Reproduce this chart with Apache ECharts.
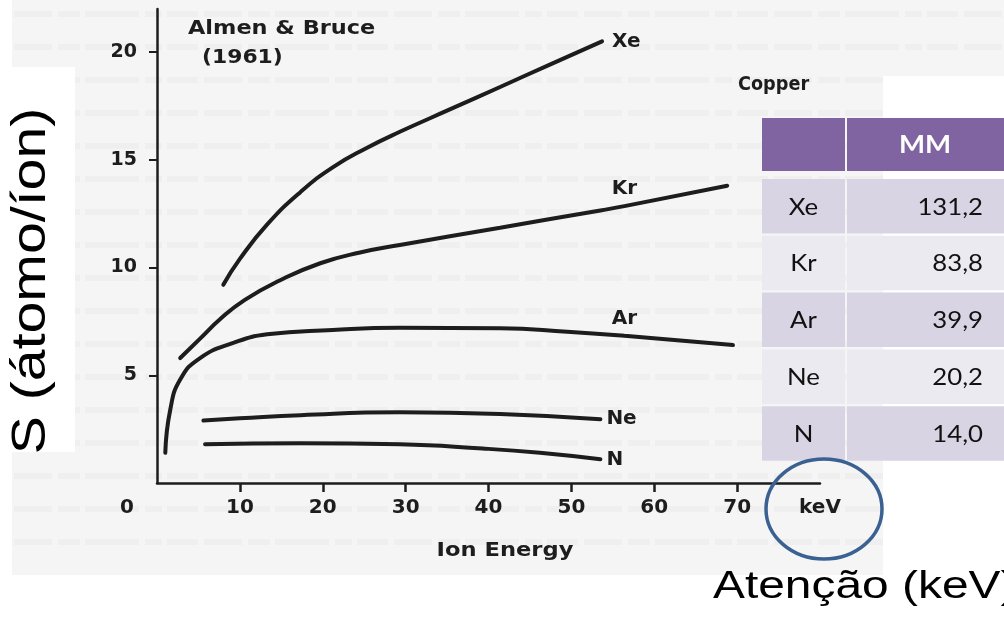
<!DOCTYPE html>
<html>
<head>
<meta charset="utf-8">
<script src="https://cdn.jsdelivr.net/npm/echarts@6/dist/echarts.min.js"></script>
<style>
  html, body { margin: 0; padding: 0; background: #ffffff; }
  #chart { width: 1004px; height: 617px; }
</style>
</head>
<body>
<div id="chart"></div>
<script>
// Sputtering yield S (atoms/ion) of copper versus ion energy (keV), Almen & Bruce (1961)
const xeYield = [[8.0, 9.2], [10.0, 10.4], [13.3, 12.0], [17.3, 13.5], [21.2, 14.65], [25.3, 15.55],
                 [29.3, 16.3], [35.4, 17.35], [41.4, 18.38], [47.4, 19.42], [53.7, 20.5]];
const krYield = [[2.8, 5.8], [5.2, 6.7], [7.6, 7.6], [10.6, 8.5], [14.8, 9.4], [19.7, 10.2],
                 [24.5, 10.7], [29.3, 11.05], [41.4, 11.85], [53.5, 12.65], [56.4, 12.85], [68.8, 13.8]];
const arYield = [[1.0, 1.4], [1.6, 3.4], [2.8, 4.8], [5.2, 5.8], [9.2, 6.5], [13.3, 6.9],
                 [21.2, 7.1], [29.3, 7.2], [41.4, 7.18], [49.5, 7.02], [56.4, 6.83], [69.5, 6.4]];
const neYield = [[5.6, 2.9], [10.0, 3.0], [17.3, 3.15], [29.3, 3.28], [41.4, 3.2], [53.5, 2.96]];
const nYield  = [[5.8, 1.8], [17.3, 1.85], [29.3, 1.8], [39.3, 1.6], [46.2, 1.4], [53.5, 1.1]];

// Gas names and molar masses shown in the side table
const gasNames = ['Xe', 'Kr', 'Ar', 'Ne', 'N'];
const molarMass = ['131,2', '83,8', '39,9', '20,2', '14,0'];

// Axis tick values
const xTicks = [10, 20, 30, 40, 50, 60, 70];
const xLabels = [0, 10, 20, 30, 40, 50, 60, 70, 80];
const yTicks = [5, 10, 15, 20];

const INK = '#1d1d1d';
const SCAN_FONT = 'DejaVu Sans';

const chart = echarts.init(document.getElementById('chart'), null, { renderer: 'canvas' });

const curveLabelStyle = {
  color: INK, fontFamily: SCAN_FONT, fontWeight: 'bold', fontSize: 20
};

// the label for Kr and Ar sits above the curve near x = 56
function withTopLabel(points, name, atX) {
  return points.map(p => {
    if (p[0] !== atX) return p;
    return {
      value: p,
      label: Object.assign({ show: true, position: 'top', distance: 7, formatter: name }, curveLabelStyle)
    };
  });
}

function curve(name, data, endLabel) {
  return {
    type: 'line',
    name: name,
    data: data,
    smooth: 0.5,
    symbol: 'circle',
    symbolSize: 0,
    showSymbol: true,
    silent: true,
    emphasis: { disabled: true },
    lineStyle: { color: INK, width: 4, cap: 'round' },
    itemStyle: { color: INK },
    label: { show: false },
    endLabel: endLabel ? Object.assign({ show: true, formatter: name, distance: endLabel }, curveLabelStyle) : { show: false },
    z: 5
  };
}

const series = [
  curve('Xe', xeYield, 10),
  curve('Kr', withTopLabel(krYield, 'Kr', 56.4), 0),
  curve('Ar', withTopLabel(arYield, 'Ar', 56.4), 0),
  curve('Ne', neYield, 6),
  curve('N', nYield, 6)
];

// Table: header, then one row per gas
const tableX = 762, col1W = 83, col2X = 847, col2W = 160;
const headerTop = 118, headerH = 53, rowTop0 = 179, rowStep = 56.8, rowH = 54.5;
const tableFont = 'Lato';
const tableGraphics = [
  { type: 'rect', shape: { x: tableX, y: headerTop, width: col1W, height: headerH }, style: { fill: '#8064A2' }, z: 50 },
  { type: 'rect', shape: { x: col2X, y: headerTop, width: col2W, height: headerH }, style: { fill: '#8064A2' }, z: 50 },
  { type: 'text', x: 925, y: headerTop + headerH / 2 + 1, scaleX: 1.15, z: 51,
    style: { text: 'MM', fill: '#ffffff', font: 'bold 24px ' + tableFont, align: 'center', verticalAlign: 'middle', textAlign: 'center', textVerticalAlign: 'middle' } }
];
gasNames.forEach((g, i) => {
  const top = rowTop0 + i * rowStep;
  const fill = i % 2 === 0 ? '#D8D4E4' : '#ECEAF1';
  tableGraphics.push(
    { type: 'rect', shape: { x: tableX, y: top, width: col1W, height: rowH }, style: { fill: fill }, z: 50 },
    { type: 'rect', shape: { x: col2X, y: top, width: col2W, height: rowH }, style: { fill: fill }, z: 50 },
    { type: 'text', x: tableX + col1W / 2, y: top + rowH / 2 + 1, scaleX: 1.12, z: 51,
      style: { text: g, fill: '#111111', font: '23px ' + tableFont, align: 'center', verticalAlign: 'middle', textAlign: 'center', textVerticalAlign: 'middle' } },
    { type: 'text', x: 983, y: top + rowH / 2 + 1, scaleX: 1.12, z: 51,
      style: { text: molarMass[i], fill: '#111111', font: '23px ' + tableFont, align: 'right', verticalAlign: 'middle', textAlign: 'right', textVerticalAlign: 'middle' } }
  );
});

// faint lines of the scanned page behind the figure
const scanLines = [];
for (let y = 14; y < 570; y += 33) {
  scanLines.push({
    type: 'line', z: -9,
    shape: { x1: 14, y1: y, x2: 1004, y2: y },
    style: { stroke: 'rgba(0,0,0,0.022)', lineWidth: 6, lineDash: [38, 6, 22, 5, 54, 6, 17, 5, 31, 6] }
  });
}

function scanText(text, x, y, size, scaleX, align) {
  return {
    type: 'text', x: x, y: y, scaleX: scaleX, z: 20,
    style: { text: text, fill: INK, font: 'bold ' + size + 'px ' + SCAN_FONT,
             align: align, verticalAlign: 'middle', textAlign: align, textVerticalAlign: 'middle' }
  };
}

const option = {
  backgroundColor: '#ffffff',
  animation: false,
  grid: { left: 157, right: 184, top: 9, bottom: 134, containLabel: false },
  xAxis: {
    type: 'value', min: 0, max: 80, interval: 10,
    axisLine: { show: true, lineStyle: { color: INK, width: 2.5 } },
    axisTick: { show: true, customValues: xTicks, length: 9, inside: false, lineStyle: { color: INK, width: 2.5 } },
    axisLabel: {
      customValues: xLabels, margin: 15,
      color: INK, fontFamily: SCAN_FONT, fontWeight: 'bold', fontSize: 20,
      formatter: v => v === 0 ? '{z|0}' : (v === 80 ? 'keV' : String(v)),
      rich: { z: { color: INK, fontFamily: SCAN_FONT, fontWeight: 'bold', fontSize: 20, padding: [0, 60, 0, 0] } }
    },
    splitLine: { show: false }
  },
  yAxis: {
    type: 'value', min: 0, max: 22,
    axisLine: { show: true, lineStyle: { color: INK, width: 2.5 } },
    axisTick: { show: true, customValues: yTicks, length: 8, inside: false, lineStyle: { color: INK, width: 2 } },
    axisLabel: { customValues: yTicks, margin: 20, color: INK, fontFamily: SCAN_FONT, fontWeight: 'bold', fontSize: 19 },
    splitLine: { show: false }
  },
  series: series,
  graphic: {
    elements: [
      // scanned page tone
      { type: 'rect', z: -10, shape: { x: 12, y: 0, width: 992, height: 76 }, style: { fill: '#f5f5f5' } },
      { type: 'rect', z: -10, shape: { x: 12, y: 76, width: 871, height: 499 }, style: { fill: '#f5f5f5' } },
      ...scanLines,
      // white boxes over the page
      { type: 'rect', z: -5, shape: { x: 0, y: 67, width: 75, height: 385 }, style: { fill: '#ffffff' } },
      { type: 'rect', z: -5, shape: { x: 883, y: 76, width: 121, height: 500 }, style: { fill: '#ffffff' } },
      scanText('Almen & Bruce', 188, 29, 19, 1.18, 'left'),
      scanText('(1961)', 202, 58, 19, 1.15, 'left'),
      scanText('Copper', 738, 85, 19, 0.93, 'left'),
      scanText('Ion Energy', 505, 551, 20, 1.13, 'center'),
      ...tableGraphics,
      { type: 'ellipse', z: 60, shape: { cx: 824, cy: 509, rx: 58, ry: 50 },
        style: { fill: 'none', stroke: '#3B6192', lineWidth: 3.5 } },
      { type: 'text', z: 60, x: 32, y: 281, rotation: Math.PI / 2, scaleX: 1.3, scaleY: 1.11,
        style: { text: 'S (átomo/íon)', fill: '#000000', font: '44px "Liberation Sans", Arial, sans-serif',
                 align: 'center', verticalAlign: 'middle', textAlign: 'center', textVerticalAlign: 'middle' } },
      { type: 'text', z: 60, x: 713, y: 588, scaleX: 1.26,
        style: { text: 'Atenção (keV)', fill: '#000000', font: '38px "Liberation Sans", Arial, sans-serif',
                 align: 'left', verticalAlign: 'middle', textAlign: 'left', textVerticalAlign: 'middle' } }
    ]
  }
};

chart.setOption(option);
</script>
</body>
</html>
